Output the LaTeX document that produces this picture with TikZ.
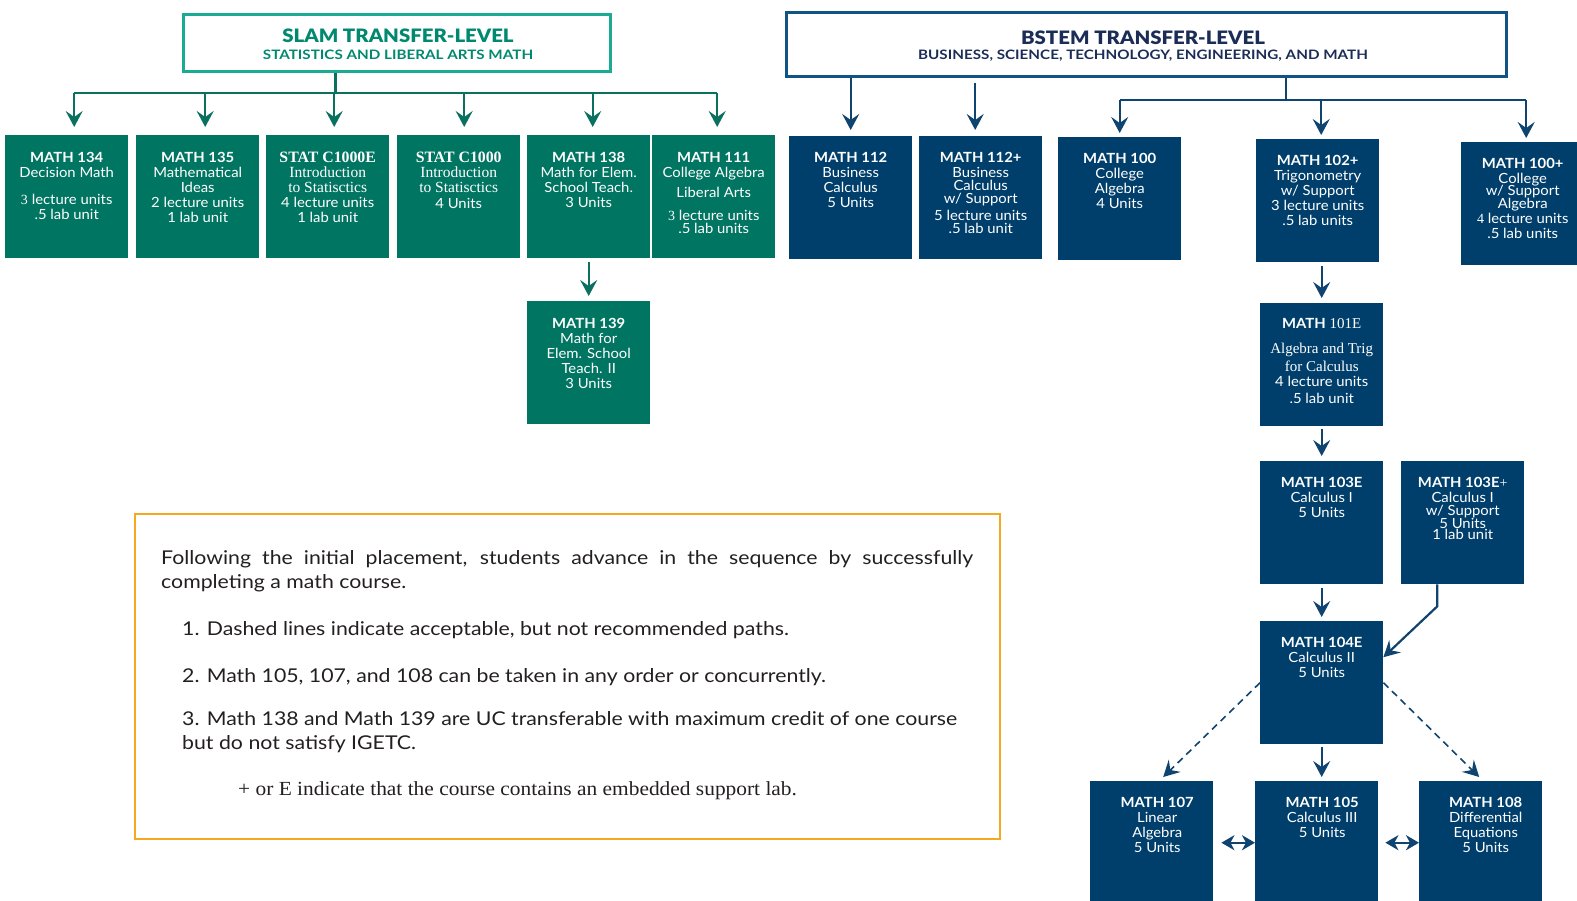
\documentclass[tikz,border=0pt]{standalone}
\usepackage{fontspec}
\setmainfont{Lato}[FakeStretch=1.06]
\newfontfamily\srf{Liberation Serif}
\newfontfamily\hdrfont{Lato}[FakeStretch=1.10, BoldFont={Lato Black}]
\newfontfamily\subfont{Lato}[FakeStretch=1.17]
\newfontfamily\legfont{Lato}[FakeStretch=1.12]
\newfontfamily\legsrf{Liberation Serif}[FakeStretch=1.07]
\usetikzlibrary{arrows.meta}
\definecolor{gfill}{HTML}{007562}
\definecolor{nfill}{HTML}{003F6B}
\definecolor{garrow}{HTML}{0A7060}
\definecolor{narrow}{HTML}{0F4470}
\definecolor{slamborder}{HTML}{1BAA92}
\definecolor{slamtext}{HTML}{00896F}
\definecolor{bstemborder}{HTML}{0F5485}
\definecolor{bstemtext}{HTML}{1B2D57}
\definecolor{legor}{HTML}{F5A91F}
\definecolor{legtext}{HTML}{231F20}
\newcommand\cbox[3][0pt]{\parbox[t][123pt][t]{123pt}{\centering\leftskip=#1 plus 1fil\relax\rightskip=-#1 plus 1fil\relax\fontsize{14}{15}\selectfont\rule{0pt}{#2}#3\par}}
\begin{document}
\begin{tikzpicture}[x=1pt,y=-1pt,
  gbox/.style={rectangle, fill=gfill, inner sep=0pt, anchor=north west, text=white, minimum width=123pt, minimum height=123pt},
  nbox/.style={gbox, fill=nfill},
  gline/.style={draw=garrow, line width=2.2pt},
  garr/.style={gline, -{Stealth[length=16pt,width=17pt,inset=6pt]}},
  nline/.style={draw=narrow, line width=2.2pt},
  narr/.style={nline, -{Stealth[length=16pt,width=17pt,inset=6pt]}},
  ndash/.style={narr, line width=1.6pt, dash pattern=on 7pt off 5pt},
  ndbl/.style={nline, {Stealth[length=13pt,width=15pt,inset=4pt]}-{Stealth[length=13pt,width=15pt,inset=4pt]}},
  legtxt/.style={anchor=base west, inner sep=0pt, text=legtext, font=\legfont\fontsize{19}{24}\selectfont}
]
\useasboundingbox (0,0) rectangle (1577,900);
\clip (0,0) rectangle (1577,900);

% ---------- SLAM header ----------
\node[draw=slamborder, line width=3pt, minimum width=427pt, minimum height=57pt, inner sep=0pt] (slam) at (396.5,42.5) {};
\node[anchor=base, inner sep=0pt, text=slamtext, font=\hdrfont\fontsize{18.5}{18.5}\selectfont\bfseries] (slamt) at (398,42.7) {SLAM TRANSFER-LEVEL};
\node[anchor=base, inner sep=0pt, text=slamtext, font=\subfont\fontsize{13}{13}\selectfont\bfseries] (slams) at (398,59) {STATISTICS AND LIBERAL ARTS MATH};

% ---------- SLAM boxes ----------
\node[gbox] (b134) at (5,135) {\cbox{27pt}{\textbf{MATH 134}\\ Decision Math\\[12pt] {\srf 3} lecture units\\ .5 lab unit}};
\node[gbox] (b135) at (136,135) {\cbox{27pt}{\textbf{MATH 135}\\ Mathematical\\ Ideas\\ 2 lecture units\\ 1 lab unit}};
\node[gbox] (c1000e) at (266,135) {\cbox{27pt}{{\srf\bfseries\fontsize{15.8}{15}\selectfont STAT C1000E}\\ {\srf\fontsize{15.5}{15}\selectfont Introduction}\\ {\srf\fontsize{15.5}{15}\selectfont to Statisctics}\\ 4 lecture units\\ 1 lab unit}};
\node[gbox] (c1000) at (397,135) {\cbox{27pt}{{\srf\bfseries\fontsize{15.8}{15}\selectfont STAT C1000}\\ {\srf\fontsize{15.5}{15}\selectfont Introduction}\\ {\srf\fontsize{15.5}{15}\selectfont to Statisctics}\\[1pt] 4 Units}};
\node[gbox] (b138) at (527,135) {\cbox{27pt}{\textbf{MATH 138}\\ Math for Elem.\\ School Teach.\\ 3 Units}};
\node[gbox] (b111) at (652,135) {\cbox{27pt}{\textbf{MATH 111}\\ College Algebra\\[5pt] Liberal Arts\\[8pt] {\srf 3} lecture units\\[-2pt] .5 lab units}};
\node[gbox] (b139) at (527,301) {\cbox{27pt}{\textbf{MATH 139}\\ Math for\\ Elem. School\\ Teach. II\\ 3 Units}};

% ---------- SLAM connectors ----------
\coordinate (sbus) at (335.5,93);
\coordinate (t134) at ([xshift=7.5pt,yshift=8pt]b134.north);
\coordinate (t135) at ([xshift=7.5pt,yshift=8pt]b135.north);
\coordinate (tc1e) at ([xshift=6.5pt,yshift=8pt]c1000e.north);
\coordinate (tc1) at ([xshift=5.5pt,yshift=8pt]c1000.north);
\coordinate (t138) at ([xshift=4pt,yshift=8pt]b138.north);
\coordinate (t111) at ([xshift=3.5pt,yshift=8pt]b111.north);
\draw[gline] (slam.south -| sbus) -- (sbus);
\draw[gline] (t134 |- sbus) -- (t111 |- sbus);
\foreach \t in {t134,t135,tc1e,tc1,t138,t111} \draw[garr] (\t |- sbus) -- (\t);
\draw[garr] ([yshift=-4pt]b138.south) -- ([yshift=5pt]b139.north);

% ---------- BSTEM header ----------
\node[draw=bstemborder, line width=3pt, minimum width=720pt, minimum height=64pt, inner sep=0pt] (bstem) at (1146,44) {};
\node[anchor=base, inner sep=0pt, text=bstemtext, font=\hdrfont\fontsize{18.5}{18.5}\selectfont\bfseries] (bstemt) at (1143,44) {BSTEM TRANSFER-LEVEL};
\node[anchor=base, inner sep=0pt, text=bstemtext, font=\subfont\fontsize{13}{13}\selectfont\bfseries] (bstems) at (1143,59) {BUSINESS, SCIENCE, TECHNOLOGY, ENGINEERING, AND MATH};

% ---------- BSTEM boxes ----------
\node[nbox] (b112) at (789,136) {\cbox{26.5pt}{\textbf{MATH 112}\\ Business\\ Calculus\\ 5 Units}};
\node[nbox] (b112p) at (919,136) {\cbox{26.5pt}{\textbf{MATH 112+}\\ Business\\[-2pt] Calculus\\[-2pt] w/ Support\\[2pt] 5 lecture units\\[-2pt] .5 lab unit}};
\node[nbox] (b100) at (1058,137) {\cbox{26pt}{\textbf{MATH 100}\\ College\\ Algebra\\ 4 Units}};
\node[nbox] (b102p) at (1256,139) {\cbox{26pt}{\textbf{MATH 102+}\\ Trigonometry\\ w/ Support\\ 3 lecture units\\ .5 lab units}};
\node[nbox] (b100p) at (1461,142) {\cbox{26pt}{\textbf{MATH 100+}\\ College\\[-3pt] w/ Support\\[-2pt] Algebra\\ {\srf 4} lecture units\\ .5 lab units}};
\node[nbox] (b101e) at (1260,303) {\cbox{25pt}{\textbf{MATH} {\srf\fontsize{15}{15}\selectfont 101E}\\[10pt] {\srf\fontsize{15}{15}\selectfont Algebra and Trig}\\[3pt] {\srf\fontsize{15}{15}\selectfont for Calculus}\\ 4 lecture units\\[2pt] .5 lab unit}};
\node[nbox] (b103e) at (1260,461) {\cbox{26pt}{\textbf{MATH 103E}\\ Calculus I\\ 5 Units}};
\node[nbox] (b103ep) at (1401,461) {\cbox{26pt}{\textbf{MATH 103E}{\srf +}\\ Calculus I\\[-2pt] w/ Support\\[-2pt] 5 Units\\[-4pt] 1 lab unit}};
\node[nbox] (b104e) at (1260,621) {\cbox{26pt}{\textbf{MATH 104E}\\ Calculus II\\ 5 Units}};
\node[nbox] (b107) at (1090,781) {\cbox[5.5pt]{26pt}{\textbf{MATH 107}\\ Linear\\ Algebra\\ 5 Units}};
\node[nbox] (b105) at (1255,781) {\cbox[5.5pt]{26pt}{\textbf{MATH 105}\\ Calculus III\\ 5 Units}};
\node[nbox] (b108) at (1419,781) {\cbox[5pt]{26pt}{\textbf{MATH 108}\\ Differential\\ Equations\\ 5 Units}};

% ---------- BSTEM connectors ----------
\coordinate (bbus) at (1286,100);
\coordinate (t112) at ([yshift=6pt]b112.north);
\coordinate (t112p) at ([xshift=-5.5pt,yshift=6pt]b112p.north);
\coordinate (s112p) at ([yshift=-5pt]bstem.south);
\coordinate (t100) at ([yshift=4pt]b100.north);
\coordinate (t102p) at ([xshift=3.5pt,yshift=4pt]b102p.north);
\coordinate (t100p) at ([xshift=3.5pt,yshift=4pt]b100p.north);
\draw[narr] (bstem.south -| t112) -- (t112);
\draw[narr] (s112p -| t112p) -- (t112p);
\draw[nline] (bstem.south -| bbus) -- (bbus);
\draw[nline] (bbus -| t100) -- (bbus -| t100p);
\foreach \t in {t100,t102p,t100p} \draw[narr] (bbus -| \t) -- (\t);

\coordinate (t101e) at ([yshift=5pt]b101e.north);
\coordinate (s101e) at ([yshift=-4pt]b102p.south);
\draw[narr] (s101e -| t101e) -- (t101e);
\draw[narr] ([yshift=-3pt]b101e.south) -- ([yshift=5pt]b103e.north);
\draw[narr] ([yshift=-4pt]b103e.south) -- ([yshift=4pt]b104e.north);
\draw[narr] ([xshift=-25.5pt]b103ep.south) -- ++(0,22) -- ([yshift=25.5pt]b104e.east);
\draw[ndash] (b104e.west) -- ([xshift=11.5pt,yshift=4pt]b107.north);
\draw[ndash] (b104e.east) -- ([xshift=-1.5pt,yshift=4pt]b108.north);
\coordinate (t105) at ([yshift=4pt]b105.north);
\draw[narr] ([yshift=-3pt]b104e.south) -- (b104e.south |- t105);
\draw[ndbl] ([xshift=8pt]b107.east) -- (b105.west);
\draw[ndbl] ([xshift=7pt]b105.east) -- (b108.west);

% ---------- Legend ----------
\node[draw=legor, line width=2pt, minimum width=865pt, minimum height=325pt, anchor=north west, inner sep=0pt] (legend) at (134,513) {};
\node[legtxt] (l1) at (161,564) {\makebox[812pt][s]{Following the initial placement, students advance in the sequence by successfully}};
\node[legtxt] (l2) at (161,588) {completing a math course.};
\node[legtxt] (l3) at (182,635) {1. Dashed lines indicate acceptable, but not recommended paths.};
\node[legtxt] (l4) at (182,682) {2. Math 105, 107, and 108 can be taken in any order or concurrently.};
\node[legtxt] (l5) at (182,725) {3. Math 138 and Math 139 are UC transferable with maximum credit of one course};
\node[legtxt] (l6) at (182,749) {but do not satisfy IGETC.};
\node[legtxt, font=\legsrf\fontsize{20}{24}\selectfont] (l7) at (238,795) {+ or E indicate that the course contains an embedded support lab.};
\end{tikzpicture}
\end{document}
